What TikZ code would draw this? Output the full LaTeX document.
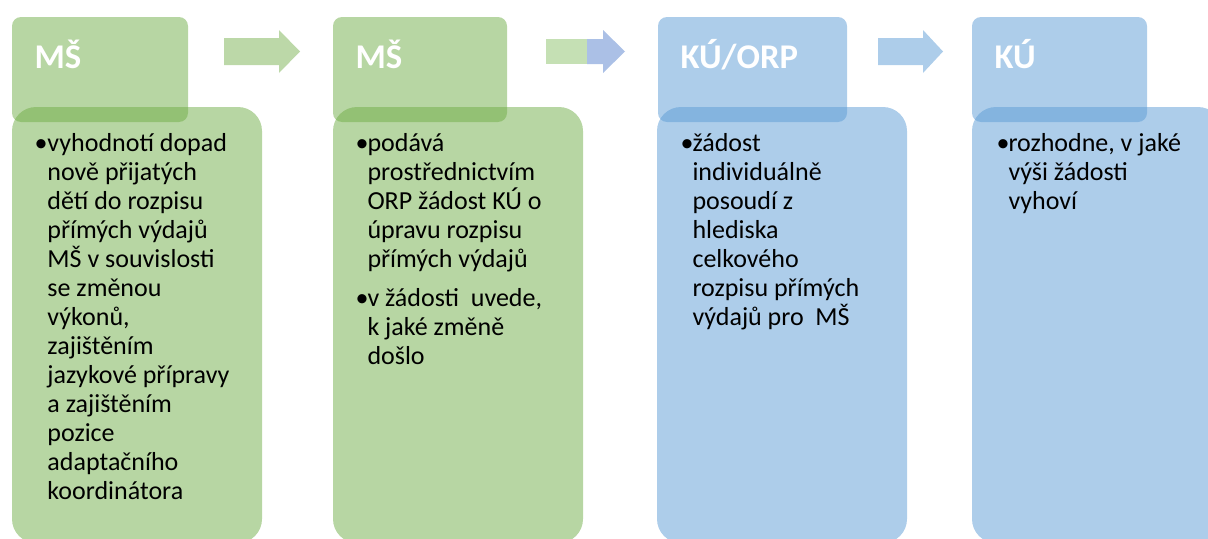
\documentclass[tikz,border=0pt]{standalone}
\usepackage{fontspec}
\setmainfont{Carlito}
\usetikzlibrary{positioning}

\definecolor{msgreen}{HTML}{70AD47}
\definecolor{kublue}{HTML}{5B9BD5}
\definecolor{arrgreen}{HTML}{C5E0B4}
\definecolor{arrblue}{RGB}{171,192,230}

\tikzset{every picture/.style={line width=0.75pt}}
\tikzset{
  hdrbox/.style={fill=#1, fill opacity=0.5, rounded corners=6.75pt, inner sep=0pt, outer sep=0pt, minimum height=78.75pt, anchor=north west},
  bodybox/.style={fill=#1, fill opacity=0.5, rounded corners=18pt, inner sep=0pt, outer sep=0pt, minimum width=187.5pt, minimum height=327pt, anchor=north west},
  hdrtxt/.style={text=white, font=\fontsize{26}{30}\selectfont\bfseries, anchor=base west, inner sep=0pt},
  bodytxt/.style={font=\fontsize{19.5}{21.75}\selectfont, align=left, anchor=base west, inner sep=0pt, text=black},
}

\begin{document}
\begin{tikzpicture}[x=0.75pt,y=0.75pt,yscale=-1,xscale=1]
\useasboundingbox (0,0) rectangle (1208,539);
\clip (0,0) rectangle (1208,539);

% Header boxes
\node [hdrbox=msgreen, minimum width=132pt] (hdrA) at (12,17) {};
\node [hdrbox=msgreen, minimum width=130.5pt] (hdrB) at (333,17) {};
\node [hdrbox=kublue, minimum width=141.75pt] (hdrC) at (658,17) {};
\node [hdrbox=kublue, minimum width=131.25pt] (hdrD) at (972,17) {};

% Body boxes
\node [bodybox=msgreen] (bodyA) at (12,107) {};
\node [bodybox=msgreen] (bodyB) at (333,107) {};
\node [bodybox=kublue] (bodyC) at (657,107) {};
\node [bodybox=kublue] (bodyD) at (972,107) {};

% Block arrows
\fill [msgreen, fill opacity=0.47] (224,38) -- (279,38) -- (279,30) -- (300,51.5) -- (279,73) -- (279,65) -- (224,65) -- cycle ;
\fill [arrgreen] (546,39) -- (587,39) -- (587,64) -- (546,64) -- cycle ;
\fill [arrblue] (587,39) -- (603,39) -- (603,30) -- (625,51.5) -- (603,73) -- (603,64) -- (587,64) -- cycle ;
\fill [kublue, fill opacity=0.5] (878,38) -- (923,38) -- (923,30) -- (943,51.5) -- (923,73) -- (923,65) -- (878,65) -- cycle ;

% Header texts
\node [hdrtxt] (titA) at (34,68) {MŠ};
\node [hdrtxt] (titB) at (355,68) {MŠ};
\node [hdrtxt] (titC) at (680,68) {KÚ/ORP};
\node [hdrtxt] (titD) at (994,68) {KÚ};

% Body texts (base = last line, 29px per line)
\node [bodytxt] (dotA) at (34,151) {•};
\node [bodytxt] (txtA) at (47,499) {vyhodnotí dopad\\nově přijatých\\dětí do rozpisu\\přímých výdajů\\MŠ v souvislosti\\se změnou\\výkonů,\\zajištěním\\jazykové přípravy\\a zajištěním\\pozice\\adaptačního\\koordinátora};

\node [bodytxt] (dotB1) at (355,151) {•};
\node [bodytxt] (txtB1) at (367,267) {podává\\prostřednictvím\\ORP žádost KÚ o\\úpravu rozpisu\\přímých výdajů};
\node [bodytxt] (dotB2) at (355,306) {•};
\node [bodytxt] (txtB2) at (367,364) {v žádosti\ \ uvede,\\k jaké změně\\došlo};

\node [bodytxt] (dotC) at (680,151) {•};
\node [bodytxt] (txtC) at (692,325) {žádost\\individuálně\\posoudí z\\hlediska\\celkového\\rozpisu přímých\\výdajů pro\ \ MŠ};

\node [bodytxt] (dotD) at (996,151) {•};
\node [bodytxt] (txtD) at (1008,209) {rozhodne, v jaké\\výši žádosti\\vyhoví};

\end{tikzpicture}
\end{document}
